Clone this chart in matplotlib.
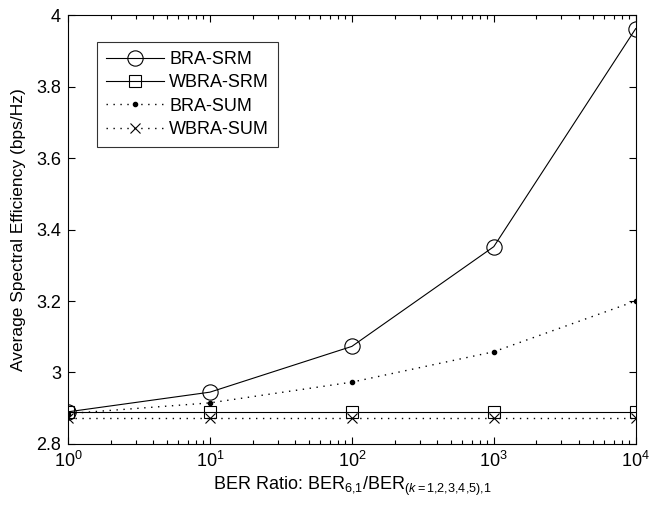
import numpy as np
import matplotlib
matplotlib.use('Agg')
import matplotlib.pyplot as plt
from matplotlib.ticker import FormatStrFormatter, LogLocator

plt.rcParams['font.family'] = ['Liberation Sans', 'DejaVu Sans']
plt.rcParams['mathtext.fontset'] = 'custom'
plt.rcParams['mathtext.rm'] = 'Liberation Sans'
plt.rcParams['mathtext.it'] = 'Liberation Sans:italic'

# BER ratio sweep and average spectral efficiency per scheme
ber_ratio = [1, 10, 100, 1000, 10000]
bra_srm = [2.89, 2.945, 3.073, 3.352, 3.962]
wbra_srm = [2.889, 2.889, 2.889, 2.889, 2.889]
bra_sum = [2.885, 2.915, 2.973, 3.058, 3.200]
wbra_sum = [2.873, 2.873, 2.873, 2.873, 2.873]

dotted = (0, (1, 4))

fig = plt.figure(figsize=(6.5, 5.08), dpi=100)
ax = fig.add_axes([0.1046, 0.126, 0.8734, 0.8444])

ax.semilogx(ber_ratio, bra_srm, 'k-', marker='o', ms=11, mfc='none', mew=0.8, lw=0.8, label='BRA-SRM')
ax.semilogx(ber_ratio, wbra_srm, 'k-', marker='s', ms=8.5, mfc='none', mew=0.8, lw=0.8, label='WBRA-SRM')
ax.semilogx(ber_ratio, bra_sum, color='k', ls=dotted, marker='.', ms=6, lw=1.0, label='BRA-SUM')
ax.semilogx(ber_ratio, wbra_sum, color='k', ls=dotted, marker='x', ms=7, mew=0.8, lw=1.0, label='WBRA-SUM')

ax.set_xlim(1, 1e4)
ax.set_ylim(2.8, 4.0)
ax.set_yticks(np.arange(2.8, 4.01, 0.2))
ax.yaxis.set_major_formatter(FormatStrFormatter('%g'))
ax.xaxis.set_major_locator(LogLocator(base=10, numticks=10))
ax.xaxis.set_minor_locator(LogLocator(base=10, subs=np.arange(2, 10), numticks=10))
ax.tick_params(which='both', direction='in', top=True, right=True, labelsize=13, width=0.8)
ax.tick_params(which='major', length=5, pad=5)
ax.tick_params(which='minor', length=3)
for s in ax.spines.values():
    s.set_linewidth(0.8)

ax.set_xlabel(r'BER Ratio: BER$_{\mathrm{6{,}1}}$/BER$_{\mathit{(k=1{,}2{,}3{,}4{,}5){,}1}}$', fontsize=13, labelpad=3)
ax.set_ylabel('Average Spectral Efficiency (bps/Hz)', fontsize=12.5, labelpad=7)

leg = ax.legend(loc='upper left', bbox_to_anchor=(0.051, 0.937), fontsize=13, frameon=True,
                fancybox=False, edgecolor='k', handlelength=3.2, borderpad=0.5, labelspacing=0.35,
                handletextpad=0.3, borderaxespad=0)
leg.get_frame().set_linewidth(0.8)

fig.savefig('out.png', dpi=100)
